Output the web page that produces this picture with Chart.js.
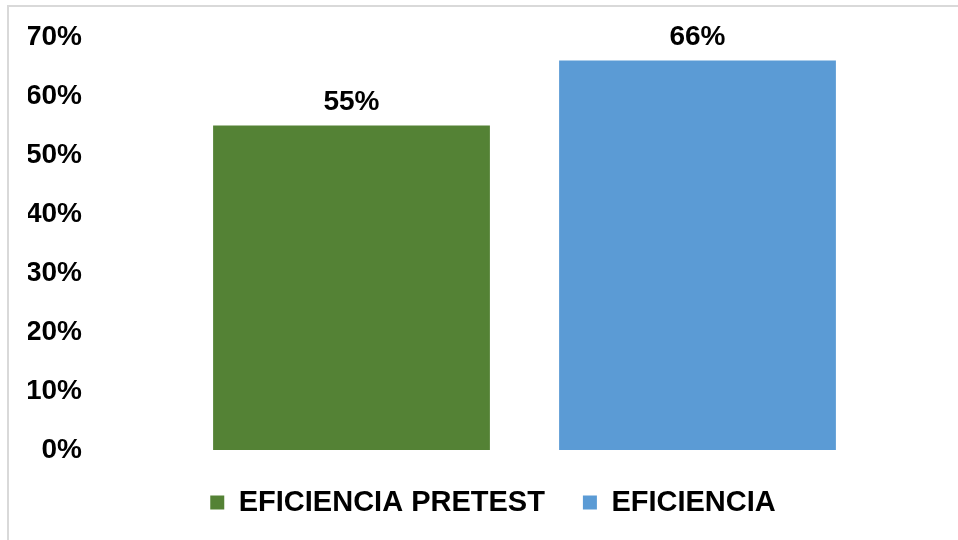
<!DOCTYPE html>
<html>
<head>
<meta charset="utf-8">
<script src="https://cdn.jsdelivr.net/npm/chart.js@4/dist/chart.umd.min.js"></script>
<style>
  html, body { margin: 0; padding: 0; background: #fff; }
  #wrap { position: relative; width: 958px; height: 540px; overflow: hidden; }
  #frame {
    position: absolute; left: 7px; top: 5px; width: 1000px; height: 600px;
    border-top: 2px solid #d9d9d9; border-left: 2px solid #d9d9d9;
    pointer-events: none;
  }
  canvas { position: absolute; left: 0; top: 0; }
</style>
</head>
<body>
<div id="wrap">
  <canvas id="chart-eficiencia" width="958" height="540"></canvas>
  <div id="frame"></div>
</div>
<script>
// Eficiencia antes y despues (bar chart)
const categories = ["EFICIENCIA PRETEST", "EFICIENCIA"];
const values = [55, 66];
const barColors = ["#548235", "#5B9BD5"];
const yTicks = [0, 10, 20, 30, 40, 50, 60, 70];

Chart.defaults.font.family = "'Liberation Sans', Arial, sans-serif";
Chart.defaults.font.weight = "bold";
Chart.defaults.color = "#000";

// etiquetas de valor encima de cada barra
const valueLabels = {
  id: "valueLabels",
  afterDatasetsDraw(chart) {
    const ctx = chart.ctx;
    const meta = chart.getDatasetMeta(0);
    ctx.save();
    ctx.font = "bold 28px 'Liberation Sans', Arial, sans-serif";
    ctx.fillStyle = "#000";
    ctx.textAlign = "center";
    ctx.textBaseline = "alphabetic";
    meta.data.forEach((bar, i) => {
      ctx.fillText(values[i] + "%", bar.x, bar.y - 16);
    });
    ctx.restore();
  }
};

const ctx = document.getElementById("chart-eficiencia").getContext("2d");
new Chart(ctx, {
  type: "bar",
  data: {
    labels: categories,
    datasets: [{
      label: "Eficiencia",
      data: values,
      backgroundColor: barColors,
      borderWidth: 0,
      barPercentage: 0.8,
      categoryPercentage: 1.0
    }]
  },
  options: {
    responsive: false,
    animation: false,
    layout: { padding: { left: 28, right: 0, top: 37, bottom: 13 } },
    plugins: {
      tooltip: { enabled: false },
      legend: {
        position: "bottom",
        maxHeight: 77,
        labels: {
          font: { size: 29, weight: "bold" },
          color: "#000",
          boxWidth: 14,
          boxHeight: 14,
          padding: 38,
          // una entrada por barra, con su color
          generateLabels: chart => categories.map((c, i) => ({
            text: c,
            fillStyle: barColors[i],
            strokeStyle: barColors[i],
            lineWidth: 0,
            hidden: false,
            index: i
          }))
        },
        onClick: () => {}
      }
    },
    scales: {
      x: { display: false },
      y: {
        min: 0,
        max: 70,
        afterBuildTicks: s => { s.ticks = yTicks.map(v => ({ value: v })); },
        afterFit: s => {
          s.width = 150.5;
          // el padding de los ticks solo debe separar en horizontal
          s.paddingTop = 0;
          s.paddingBottom = 0;
        },
        grid: { display: false, drawTicks: false },
        border: { display: false },
        ticks: {
          padding: 96.5,
          font: { size: 28, weight: "bold" },
          color: "#000",
          callback: v => v + "%"
        }
      },
      y2: {
        position: "right",
        display: true,
        afterFit: s => { s.width = 87.5; },
        grid: { display: false, drawTicks: false },
        border: { display: false },
        ticks: { display: false }
      }
    }
  },
  plugins: [valueLabels]
});
</script>
</body>
</html>
